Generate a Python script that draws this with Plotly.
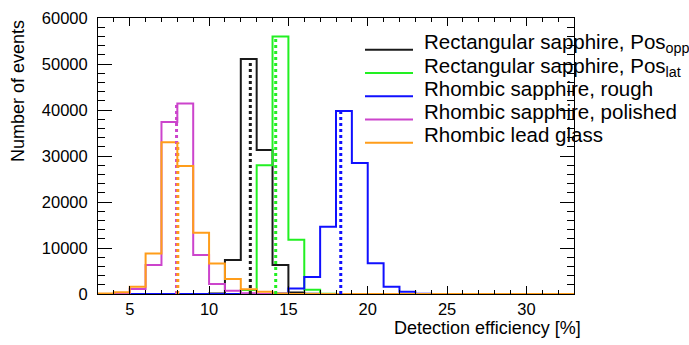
import plotly.graph_objects as go

# Bin edges: 1 % wide bins from 3 % to 33 %
bin_lo = list(range(3, 33))

# Event counts per bin (one entry per bin, lower edge given in bin_lo)
rect_opp = [0, 0, 0, 0, 0, 0, 0, 100, 7400, 51100, 31300, 6300, 300, 50, 0,
            0, 0, 0, 0, 0, 0, 0, 0, 0, 0, 0, 0, 0, 0, 0]
rect_lat = [0, 0, 0, 0, 0, 0, 0, 0, 0, 880, 28000, 56000, 11800, 900, 50,
            0, 0, 0, 0, 0, 0, 0, 0, 0, 0, 0, 0, 0, 0, 0]
rhomb_rough = [0, 0, 0, 0, 0, 0, 0, 0, 0, 0, 0, 100, 1200, 3700, 14600,
               39800, 28500, 6700, 1550, 500, 50, 0, 0, 0, 0, 0, 0, 0, 0, 0]
rhomb_polished = [0, 150, 1100, 6300, 37400, 41400, 8500, 2150, 700, 150, 0,
                  0, 0, 0, 0, 0, 0, 0, 0, 0, 0, 0, 0, 0, 0, 0, 0, 0, 0, 0]
lead_glass = [100, 400, 1580, 8800, 33000, 27800, 13300, 6650, 3250, 1050, 500,
              100, 0, 0, 0, 0, 0, 0, 0, 0, 0, 0, 0, 0, 0, 0, 0, 0, 0, 0]

# Mean detection efficiency of each distribution [%]
means = [12.6, 14.2, 18.3, 7.95, 8.03]

names = [
    "Rectangular sapphire, Pos<sub>opp</sub>",
    "Rectangular sapphire, Pos<sub>lat</sub>",
    "Rhombic sapphire, rough",
    "Rhombic sapphire, polished",
    "Rhombic lead glass",
]
series = [rect_opp, rect_lat, rhomb_rough, rhomb_polished, lead_glass]
colors = ["#1a1a1a", "#22f022", "#1010ff", "#cc44cc", "#ff9d1a"]

y_ticks = [0, 10000, 20000, 30000, 40000, 50000, 60000]
x_ticks = [5, 10, 15, 20, 25, 30]

FONT = "Liberation Sans, Arial, sans-serif"

# Plot-area geometry in pixels (used to place the legend block)
W, H = 689, 345
ML, MR, MT, MB = 98, 115, 9, 51
PW, PH = W - ML - MR, H - MT - MB


def px_x(px):
    return (px - ML) / PW


def px_y(py):
    return (H - MB - py) / PH


fig = go.Figure()

edges = bin_lo + [bin_lo[-1] + 1]
for name, vals, col in zip(names, series, colors):
    fig.add_trace(go.Scatter(
        x=edges, y=vals + [vals[-1]], mode="lines", line_shape="hv",
        line=dict(color=col, width=2), name=name, showlegend=False,
    ))

# Dotted markers at the mean, reaching up to the peak bin
for vals, m, col in zip(series, means, colors):
    fig.add_trace(go.Scatter(
        x=[m, m], y=[0, max(vals)], mode="lines",
        line=dict(color=col, width=3, dash="dot"), showlegend=False,
        hoverinfo="skip",
    ))

# Legend block: short line sample plus label for each histogram
shapes = []
annotations = []
row0, row_step = 41.7, 24.0
for i, (name, col) in enumerate(zip(names, colors)):
    ly = row0 + i * row_step
    shapes.append(dict(
        type="line", xref="paper", yref="paper",
        x0=px_x(365), x1=px_x(413), y0=px_y(ly), y1=px_y(ly),
        line=dict(color=col, width=2),
    ))
    annotations.append(dict(
        text=name, xref="paper", yref="paper",
        x=px_x(422), y=px_y(ly - 22), xanchor="left", yanchor="top",
        showarrow=False, font=dict(size=20.5, family=FONT),
    ))

annotations += [
    dict(text="Detection efficiency [%]", xref="paper", yref="paper",
         x=1.0, y=0, xanchor="right", yanchor="top", xshift=9, yshift=-22,
         showarrow=False, font=dict(size=18)),
    dict(text="Number of events", xref="paper", yref="paper",
         x=px_x(18), y=1.0, xanchor="center", yanchor="top",
         textangle=-90, showarrow=False, font=dict(size=18)),
]

fig.update_layout(
    width=W, height=H,
    margin=dict(l=ML, r=MR, t=MT, b=MB),
    paper_bgcolor="white", plot_bgcolor="white",
    font=dict(family=FONT, size=16.5, color="black"),
    showlegend=False,
    shapes=shapes,
    annotations=annotations,
)

fig.update_xaxes(
    range=[3, 33], showgrid=False, zeroline=False,
    showline=True, linecolor="black", linewidth=1, mirror="ticks",
    ticks="inside", ticklen=8, tickcolor="black", tickwidth=1,
    tickmode="array", tickvals=x_ticks, ticktext=[str(v) for v in x_ticks],
    ticklabeloverflow="allow",
    minor=dict(ticks="inside", ticklen=4, dtick=1, tick0=0,
               tickcolor="black", showgrid=False),
)
fig.update_yaxes(
    range=[0, 60000], showgrid=False, zeroline=False,
    showline=True, linecolor="black", linewidth=1, mirror="ticks",
    ticks="inside", ticklen=14, tickcolor="black", tickwidth=1,
    tickmode="array", tickvals=y_ticks, ticktext=[str(v) for v in y_ticks],
    ticklabeloverflow="allow", ticklabelstandoff=6,
    minor=dict(ticks="inside", ticklen=7, dtick=2000, tick0=0,
               tickcolor="black", showgrid=False),
)

fig.write_html("out.html")
